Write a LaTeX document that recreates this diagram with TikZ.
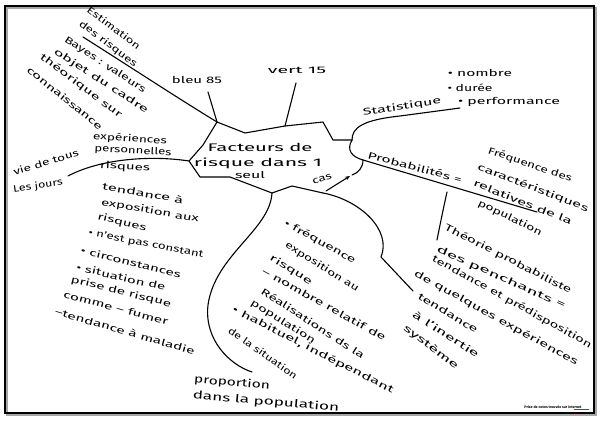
\documentclass[tikz,border=0pt]{standalone}
\usepackage{fontspec}
\usepackage{graphicx}
\setmainfont{Fira Sans}
\usetikzlibrary{arrows.meta}
\newcommand\hwtext[2]{\resizebox{#1pt}{\height}{#2}}
\begin{document}
\begin{tikzpicture}[x=1pt,y=-1pt,
  hw/.style={inner sep=0pt, anchor=center, font=\fontsize{9.5}{10}\selectfont},
  hwbig/.style={inner sep=0pt, anchor=center, font=\fontsize{11}{11}\selectfont},
  pen/.style={line width=1.1pt, line cap=round, line join=round},
  credit/.style={inner sep=0pt, anchor=center, font=\fontsize{3.6}{4}\selectfont\bfseries}]
\useasboundingbox (0,0) rectangle (600,423);
\fill[white] (0,0) rectangle (600,423);
% frame
\draw[line width=2pt, gray!70] (7,8) rectangle (596,415);
\draw[line width=1.2pt] (5,6) rectangle (594,413);

% central shape
\coordinate (c1) at (217,122);
\coordinate (c2) at (245,133);
\coordinate (c3) at (285,126);
\coordinate (c4) at (323,122);
\coordinate (c5) at (333,140);
\coordinate (c6) at (352,140);
\coordinate (c7) at (363,160);
\coordinate (c8) at (323,193);
\coordinate (c9) at (292,186);
\coordinate (c10) at (272,193);
\coordinate (c11) at (230,177);
\coordinate (c12) at (200,177);
\coordinate (c13) at (189,161);
\coordinate (c14) at (203,145);
\draw[pen] (c6) -- (c5) -- (c4) -- (c3) -- (c2) -- (c1) -- (c14) -- (c13) -- (c12) -- (c11) -- (c10) -- (c9) -- (c8);
\draw[pen] (c6) .. controls (346,150) and (352,157) .. (c7);
\coordinate (arrtip) at (350,176);
\draw[pen, -{Stealth[length=5pt,width=4pt]}] (326,191) -- (arrtip);
\draw[pen] (c7) .. controls (363,168) and (358,173) .. (352,175);

\node[hwbig] (fac) at (260,147) {\hwtext{105}{Facteurs de}};
\node[hwbig] (ris) at (258,163) {\hwtext{128}{risque dans 1}};
\node[hw] (seul) at (250,175) {\hwtext{30}{seul}};
\node[hw, rotate=18] (cas) at (322,179) {\hwtext{20}{cas}};

% top-left branch
\coordinate (estend) at (83,37);
\draw[pen] (estend) .. controls (132,68) and (176,97) .. (c1);
\node[hw, rotate=-37] (est1) at (114,28) {\hwtext{64}{Estimation}};
\node[hw, rotate=-37] (est2) at (108,44) {\hwtext{70}{des risques}};
\node[hw, rotate=-33] (bay1) at (105,65) {\hwtext{95}{Bayes : valeurs}};
\node[hw, rotate=-33] (bay2) at (101,81) {\hwtext{110}{objet du cadre}};
\node[hw, rotate=-37] (bay3) at (81,86) {\hwtext{100}{théorique sur}};
\node[hw, rotate=-39] (bay4) at (65,98) {\hwtext{94}{connaissance}};

% bleu / vert
\node[hw] (bleu) at (197,80) {\hwtext{50}{bleu 85}};
\node[hw] (vert) at (297,70) {\hwtext{58}{vert 15}};
\draw[pen] (c1) -- (208,92);
\draw[pen] (c3) .. controls (290,105) .. (296,83);

% left branch
\draw[pen] (68,176) .. controls (100,159) and (150,155) .. (c13);
\node[hw, rotate=-4] (exp) at (130,139) {\hwtext{74}{expériences}};
\node[hw, rotate=-3] (pers) at (133,151) {\hwtext{77}{personnelles}};
\node[hw, rotate=-3] (risq) at (125,167) {\hwtext{50}{risques}};
\node[hw, rotate=17] (vie) at (46,162) {\hwtext{68}{vie de tous}};
\node[hw, rotate=8] (jours) at (38,186) {\hwtext{50}{Les jours}};

% left lower block
\node[hw, rotate=-10] (l1) at (143,193) {\hwtext{82}{tendance à}};
\node[hw, rotate=-10] (l2) at (150,211) {\hwtext{99}{exposition aux}};
\node[hw, rotate=-14] (l3) at (122,223) {\hwtext{50}{risques}};
\node[hw, rotate=-11] (l4) at (146,244) {\hwtext{117}{• n'est pas constant}};
\node[hw, rotate=-14] (l5) at (131,262) {\hwtext{103}{• circonstances}};
\node[hw, rotate=-13] (l6) at (121,277) {\hwtext{91}{• situation de}};
\node[hw, rotate=-14] (l7) at (121,292) {\hwtext{103}{prise de risque}};
\node[hw, rotate=-15] (l8) at (116,308) {\hwtext{108}{comme – fumer}};
\node[hw, rotate=-16] (l9) at (125,331) {\hwtext{145}{–tendance à maladie}};

% bottom branch
\draw[pen] (c10) .. controls (270,230) and (215,255) .. (208,305) .. controls (204,340) and (230,365) .. (252,372);
\node[hw, rotate=-29] (b1) at (320,242) {\hwtext{80}{• fréquence}};
\node[hw, rotate=-32] (b2) at (322,267) {\hwtext{85}{exposition au}};
\node[hw, rotate=-32] (b3) at (291,270) {\hwtext{48}{risque}};
\node[hw, rotate=-29] (b4) at (324,304) {\hwtext{140}{– nombre relatif de}};
\node[hw, rotate=-33] (b5) at (313,323) {\hwtext{121}{Réalisations ds la}};
\node[hw, rotate=-32] (b6) at (283,322) {\hwtext{74}{population}};
\node[hw, rotate=-27] (b7) at (313,350) {\hwtext{180}{• habituel, indépendant}};
\node[hw, rotate=-35] (b8) at (263,353) {\hwtext{82}{de la situation}};
\node[hwbig, rotate=-5] (p1) at (232,383) {\hwtext{76}{proportion}};
\node[hwbig, rotate=-5] (p2) at (266,402) {\hwtext{147}{dans la population}};

% bottom-right branch
\draw[pen] (c8) .. controls (360,200) and (392,230) .. (381,257) -- (413,291);
\node[hw, rotate=-31] (t1) at (448,313) {\hwtext{68}{tendance}};
\node[hw, rotate=-33] (t2) at (446,334) {\hwtext{77}{à l'inertie}};
\node[hw, rotate=-37] (t3) at (431,347) {\hwtext{66}{système}};

% probabilites
\coordinate (pend) at (537,212);
\draw[pen] (c7) -- (pend);
\node[hw, rotate=-15] (prob) at (415,167) {\hwtext{97}{Probabilités =}};
\node[hw, rotate=-19] (f1) at (530,165) {\hwtext{88}{Fréquence des}};
\node[hw, rotate=-21] (f2) at (533,188) {\hwtext{118}{caractéristiques}};
\node[hw, rotate=-22] (f3) at (523,202) {\hwtext{105}{relatives de la}};
\node[hw, rotate=-26] (f4) at (510,218) {\hwtext{70}{population}};
\coordinate (vtop) at (447,192);
\coordinate (vbot) at (437,240);
\draw[pen] (vtop) .. controls (442,215) .. (vbot);
\node[hw, rotate=-27] (th1) at (508,259) {\hwtext{141}{Théorie probabiliste}};
\node[hw, rotate=-24] (th2) at (501,278) {\hwtext{140}{des penchants =}};
\node[hw, rotate=-29] (th3) at (512,302) {\hwtext{181}{tendance et prédisposition}};
\node[hw, rotate=-29] (th4) at (496,318) {\hwtext{186}{de quelques expériences}};

% statistique
\draw[pen] (c6) .. controls (352,128) and (362,120) .. (400,116) -- (460,108);
\node[hw, rotate=9] (stat) at (402,107) {\hwtext{79}{Statistique}};
\node[hw] (s1) at (480,73) {\hwtext{64}{• nombre}};
\node[hw] (s2) at (470,88) {\hwtext{45}{• durée}};
\node[hw] (s3) at (509,102) {\hwtext{102}{• performance}};

% credit
\node[credit] (cred) at (553,407) {Prise de notes trouvée sur internet};
\draw[red, line width=0.3pt] (574,409.5) -- (589,409.5);
\end{tikzpicture}
\end{document}
